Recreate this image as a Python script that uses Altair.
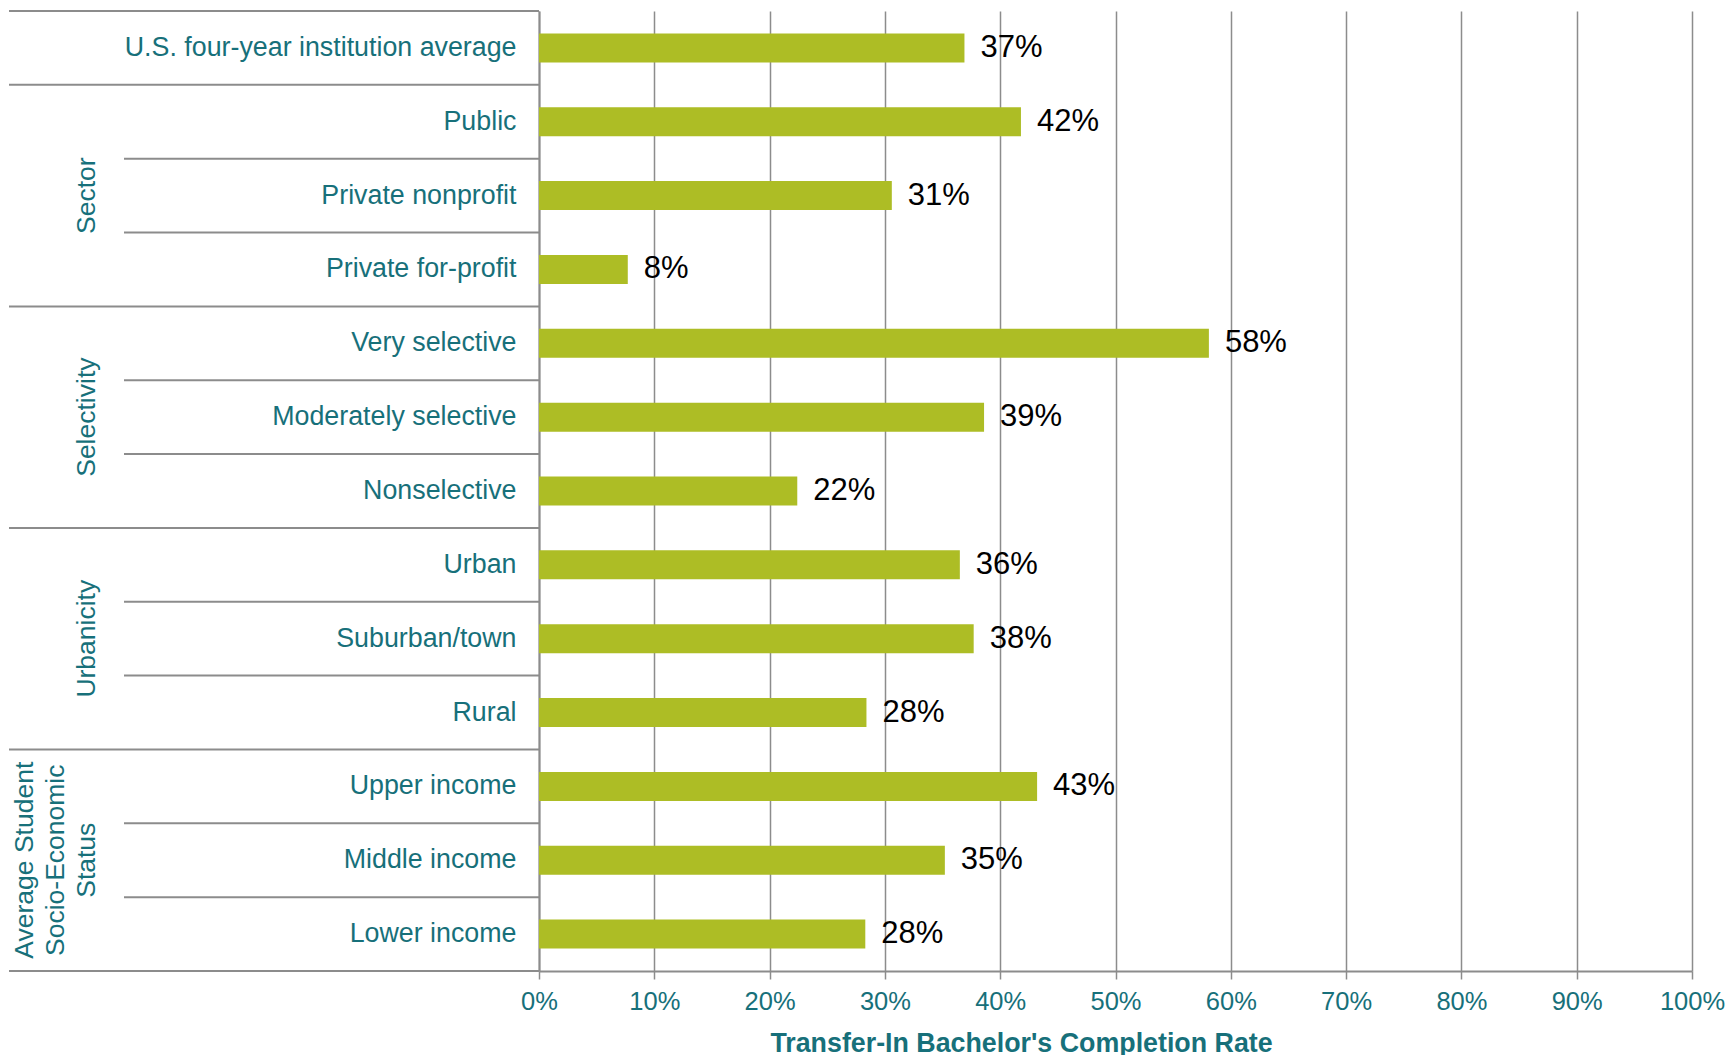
import altair as alt
import pandas as pd

categories = [
    "U.S. four-year institution average",
    "Public", "Private nonprofit", "Private for-profit",
    "Very selective", "Moderately selective", "Nonselective",
    "Urban", "Suburban/town", "Rural",
    "Upper income", "Middle income", "Lower income",
]
groups = [
    "",
    "Sector", "Sector", "Sector",
    "Selectivity", "Selectivity", "Selectivity",
    "Urbanicity", "Urbanicity", "Urbanicity",
    "SES", "SES", "SES",
]
values = [0.369, 0.418, 0.306, 0.077, 0.581, 0.386, 0.224,
          0.365, 0.377, 0.284, 0.432, 0.352, 0.283]
value_labels = ["37%", "42%", "31%", "8%", "58%", "39%", "22%",
                "36%", "38%", "28%", "43%", "35%", "28%"]
group_titles = ["Sector", "Selectivity", "Urbanicity"]
group_mid_rows = ["Private nonprofit", "Moderately selective", "Suburban/town"]
ses_title = "Average Student\nSocio-Economic\nStatus"
ses_mid_row = "Middle income"
x_ticks = [0, 0.1, 0.2, 0.3, 0.4, 0.5, 0.6, 0.7, 0.8, 0.9, 1.0]
x_title = "Transfer-In Bachelor's Completion Rate"

TEAL = "#17707A"
GREEN = "#ADBD25"
GRAY = "#8C8C8C"
FONT = "Liberation Sans"

W, H = 1153, 960

df = pd.DataFrame({"cat": categories, "group": groups, "value": values, "label": value_labels})
df["first"] = [i == 0 or groups[i] != groups[i - 1] for i in range(len(groups))]

ysc = alt.Scale(domain=categories, paddingInner=0, paddingOuter=0)
y_band = alt.Y("cat:N", scale=ysc, sort=categories)
y_start = alt.Y("cat:N", scale=ysc, sort=categories, bandPosition=0)

base = alt.Chart(df)

bars = base.mark_bar(color=GREEN, size=29).encode(
    x=alt.X("value:Q", scale=alt.Scale(domain=[0, 1], nice=False),
            axis=alt.Axis(values=x_ticks, format=".0%", grid=True, gridColor=GRAY, gridWidth=1.5,
                          tickColor=GRAY, tickSize=8, tickWidth=1.5, domainColor=GRAY, domainWidth=2,
                          labelFont=FONT, labelFontSize=25.5, labelColor=TEAL, labelPadding=10,
                          labelFlush=False,
                          title=x_title, titleFont=FONT, titleFontSize=26.8, titleFontWeight="bold",
                          titleColor=TEAL, titleX=482, titleY=72, titleAlign="center",
                          titleBaseline="middle")),
    y=alt.Y("cat:N", scale=ysc, sort=categories,
            axis=alt.Axis(title=None, ticks=False, domain=True, domainColor=GRAY, domainWidth=2,
                          labelFont=FONT, labelFontSize=26.8, labelColor=TEAL, labelPadding=23,
                          labelLimit=1000, grid=False)),
)

texts = base.mark_text(align="left", baseline="middle", dx=16, font=FONT, fontSize=31,
                       color="black").encode(
    x="value:Q", y=y_band, text="label:N")

long_rules = base.transform_filter(alt.datum.first == True).mark_rule(
    color=GRAY, strokeWidth=2).encode(y=y_start, x=alt.value(-530), x2=alt.value(0))
short_rules = base.transform_filter(alt.datum.first == False).mark_rule(
    color=GRAY, strokeWidth=2).encode(y=y_start, x=alt.value(-415), x2=alt.value(0))
bottom_rule = alt.Chart(pd.DataFrame({"a": [0]})).mark_rule(color=GRAY, strokeWidth=2).encode(
    y=alt.value(H), x=alt.value(-530), x2=alt.value(0))

gdf = pd.DataFrame({"cat": group_mid_rows, "title": group_titles})
group_text = alt.Chart(gdf).mark_text(angle=270, align="center", baseline="middle", font=FONT,
                                      fontSize=26.5, color=TEAL).encode(
    y=y_band, x=alt.value(86 - 538), text="title:N")

sdf = pd.DataFrame({"cat": [ses_mid_row], "title": [ses_title]})
ses_text = alt.Chart(sdf).mark_text(angle=270, align="center", baseline="middle", font=FONT,
                                    fontSize=26.5, color=TEAL, lineBreak="\n", lineHeight=31).encode(
    y=y_band, x=alt.value(24 - 538), text="title:N")

chart = alt.layer(bars, texts, long_rules, short_rules, bottom_rule, group_text, ses_text).properties(
    width=W, height=H,
    padding={"left": 0, "top": 2, "right": 0, "bottom": 0},
).configure_view(stroke=None)

chart.save("out.html", embed_options={"renderer": "svg", "actions": False})
